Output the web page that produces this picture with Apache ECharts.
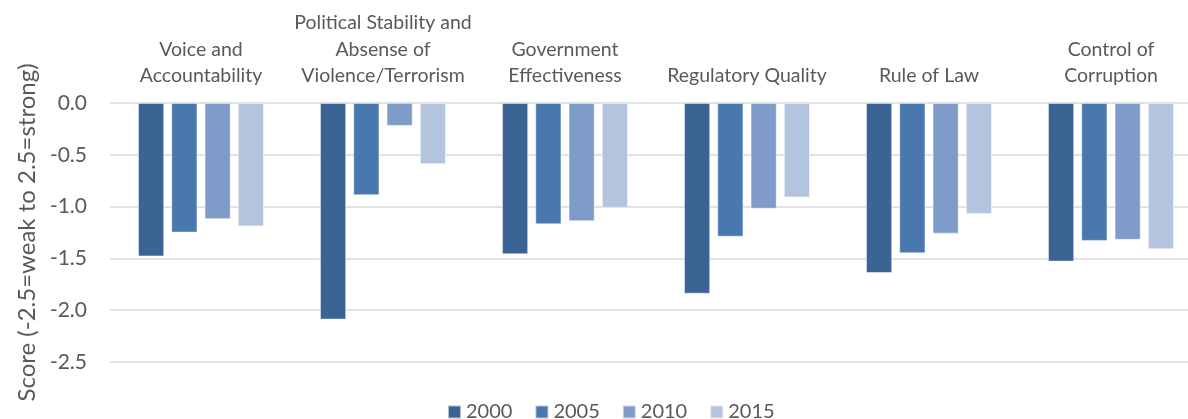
<!DOCTYPE html>
<html>
<head>
<meta charset="utf-8">
<script src="https://cdn.jsdelivr.net/npm/echarts@6/dist/echarts.min.js"></script>
<style>
html,body{margin:0;padding:0;background:#fff;overflow:hidden;width:1188px;height:419px;}
#chart{width:1202px;height:419px;}
</style>
</head>
<body>
<div id="chart"></div>
<script>
var categories = ['Voice and\nAccountability', 'Political Stability and\nAbsense of\nViolence/Terrorism', 'Government\nEffectiveness', 'Regulatory Quality', 'Rule of Law', 'Control of\nCorruption'];
var years = ['2000', '2005', '2010', '2015'];
var v2000 = [-1.48, -2.09, -1.46, -1.84, -1.64, -1.53];
var v2005 = [-1.25, -0.89, -1.17, -1.29, -1.45, -1.33];
var v2010 = [-1.12, -0.22, -1.14, -1.02, -1.26, -1.32];
var v2015 = [-1.19, -0.59, -1.01, -0.91, -1.07, -1.41];
var yTicks = [0, -0.5, -1.0, -1.5, -2.0, -2.5];
var colors = ['#3b6494', '#4878ae', '#7f9cc8', '#b4c4de'];
var yName = 'Score (-2.5=weak to 2.5=strong)';

var font = 'Lato, "Open Sans", sans-serif';
var textColor = '#595959';
var seriesData = [v2000, v2005, v2010, v2015];

var chart = echarts.init(document.getElementById('chart'), null, {renderer: 'canvas'});
chart.setOption({
  animation: false,
  color: colors,
  grid: {left: 110, top: 103, bottom: 57, right: 0, containLabel: false},
  legend: {
    data: years,
    top: 402,
    left: 447,
    padding: 0,
    icon: 'rect',
    itemWidth: 13,
    itemHeight: 13,
    itemGap: 22,
    textStyle: {fontFamily: font, fontSize: 20, color: textColor}
  },
  xAxis: {
    type: 'category',
    position: 'top',
    data: categories,
    axisLine: {show: false},
    axisTick: {show: false},
    axisLabel: {
      interval: 0,
      margin: 14,
      fontFamily: font,
      fontSize: 19.5,
      lineHeight: 26.5,
      color: textColor,
      align: 'center'
    }
  },
  yAxis: {
    type: 'value',
    min: -2.5,
    max: 0,
    interval: 0.5,
    name: yName,
    nameLocation: 'middle',
    nameGap: 71,
    nameRotate: 90,
    nameTextStyle: {fontFamily: font, fontSize: 24, color: textColor},
    axisLine: {show: false},
    axisTick: {show: false},
    axisLabel: {
      margin: 23,
      fontFamily: font,
      fontSize: 21,
      color: textColor,
      formatter: function (v) { return v.toFixed(1); }
    },
    splitLine: {lineStyle: {color: '#d9d9d9', width: 1.5}}
  },
  series: years.map(function (y, i) {
    return {
      name: y,
      type: 'bar',
      data: seriesData[i],
      barWidth: 26,
      barGap: '28%',
      itemStyle: {color: colors[i], borderColor: 'rgba(255,255,255,0.6)', borderWidth: 0.8}
    };
  })
});
</script>
</body>
</html>
